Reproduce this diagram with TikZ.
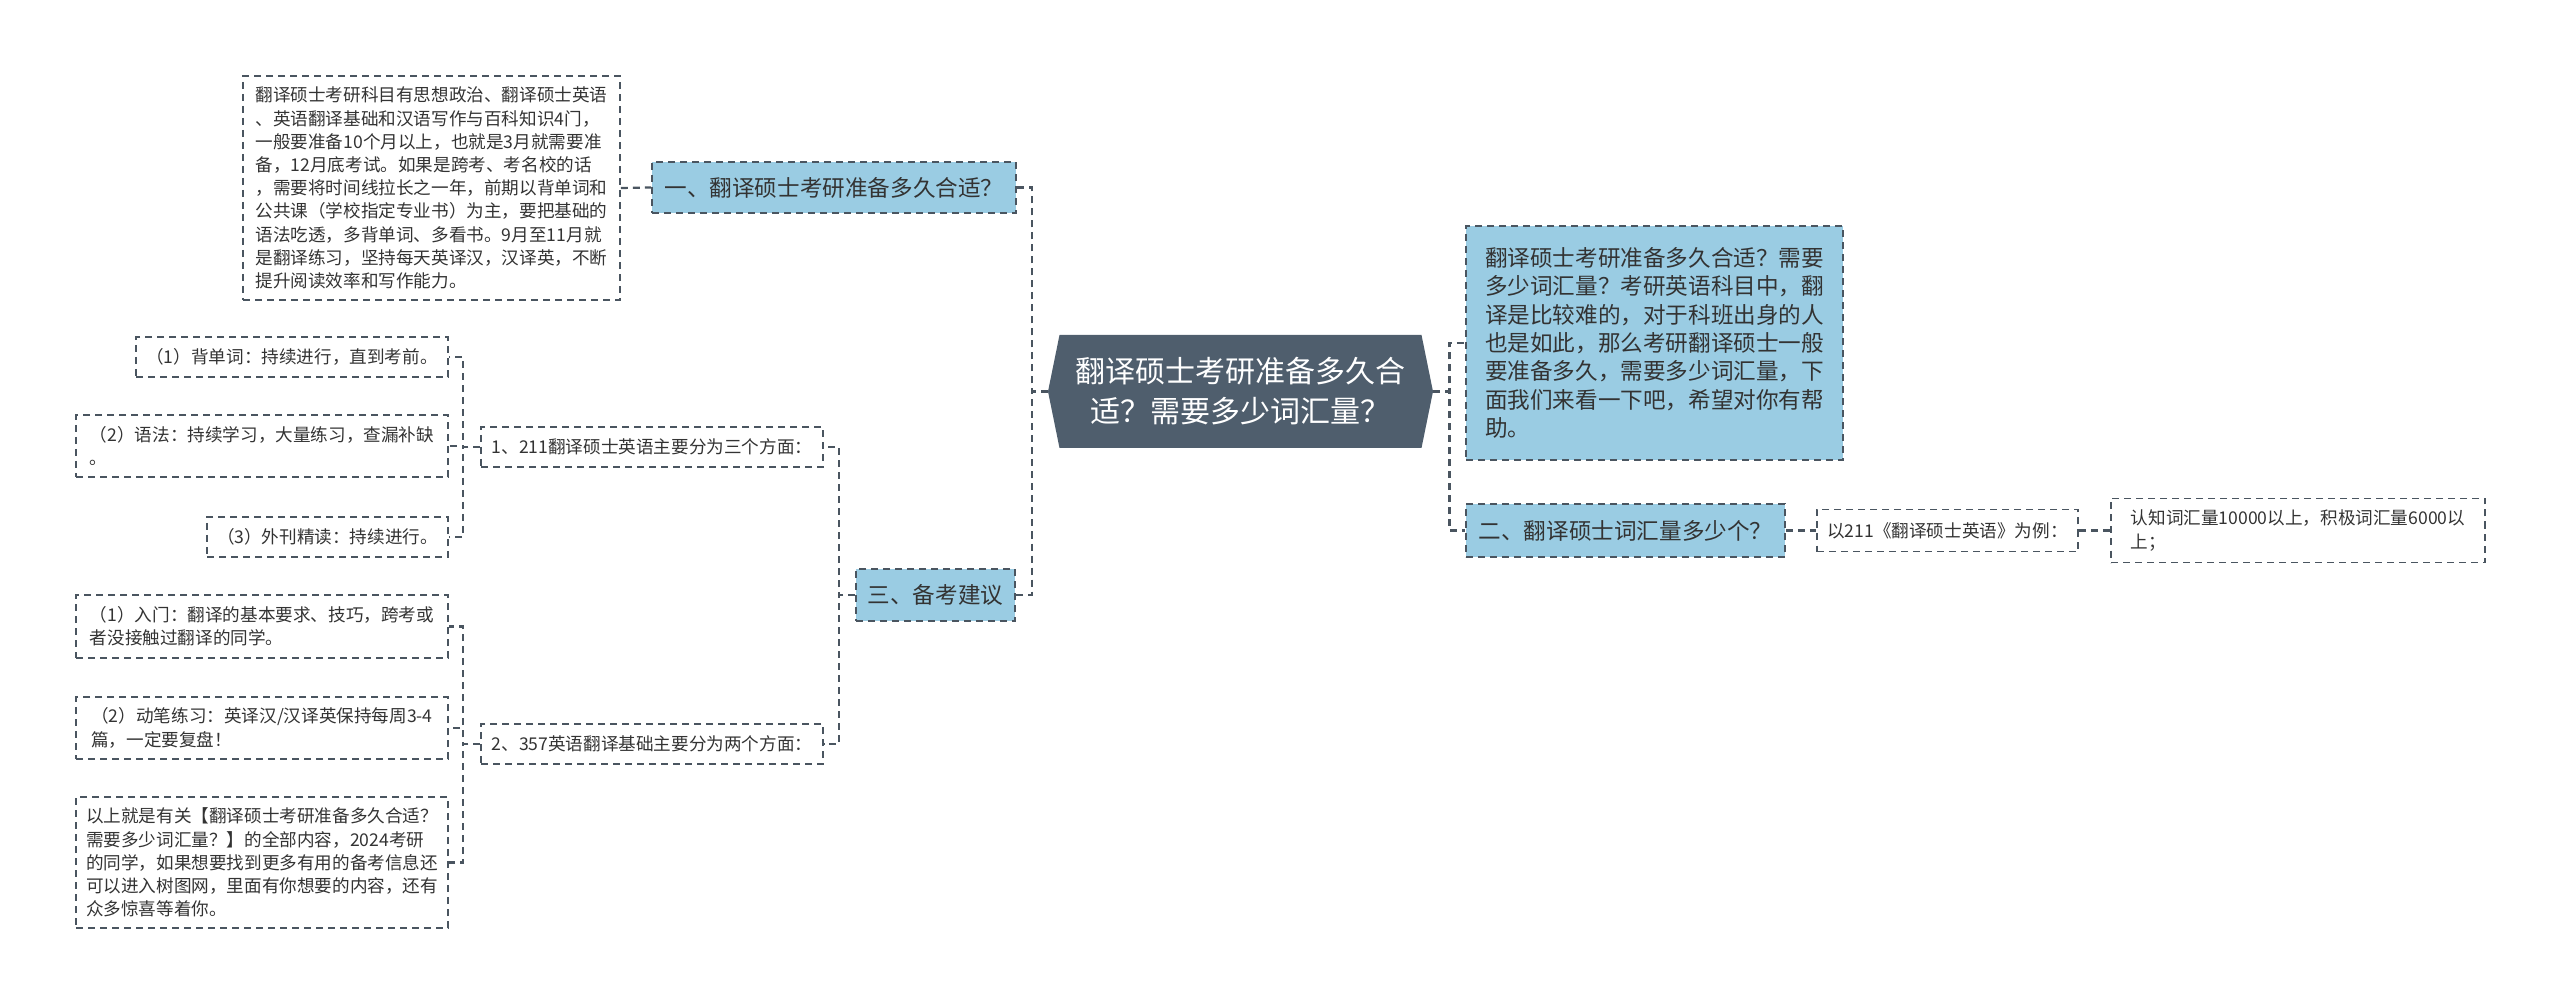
\documentclass[tikz,border=0pt]{standalone}
\usepackage{fontspec}
\setmainfont{Noto Sans CJK SC}
\usetikzlibrary{shapes.symbols}

\definecolor{topicfill}{HTML}{4F5E6D}
\definecolor{branchfill}{HTML}{9ACCE3}
\definecolor{linegray}{HTML}{4A5560}
\definecolor{textgray}{HTML}{333333}

\tikzset{
  wh/.style 2 args={minimum width=#1*0.5pt, minimum height=#2*0.5pt},
  box/.style={draw=linegray, line width=0.8pt, dash pattern=on 3.5pt off 2.5pt,
    text=textgray, inner sep=0pt, align=left},
  leaf/.style={box, font=\fontsize{8.8}{11.6}\selectfont},
  branch/.style={box, fill=branchfill, font=\fontsize{11.3}{14.2}\selectfont},
  topic/.style={signal, signal to=west and east, signal pointer angle=157,
    fill=topicfill, text=white, align=center, inner sep=0pt,
    font=\fontsize{15}{20}\selectfont},
  link/.style={draw=linegray, line width=1.1pt, dash pattern=on 3.5pt off 2.5pt},
}

\begin{document}
\begin{tikzpicture}[x=0.5pt, y=-0.5pt]
    \useasboundingbox (0,0) rectangle (2560,1005);

    \node[topic, wh={385}{113}] (main) at (1240.5,391.5)
      {翻译硕士考研准备多久合\\适？需要多少词汇量？};

    % left
    \node[branch, wh={364}{51}] (b1) at (834,187.5) {一、翻译硕士考研准备多久合适？};
    \node[leaf, wh={377}{224}] (intro) at (431.5,188)
      {翻译硕士考研科目有思想政治、翻译硕士英语\\
       、英语翻译基础和汉语写作与百科知识4门，\\
       一般要准备10个月以上，也就是3月就需要准\\
       备，12月底考试。如果是跨考、考名校的话\\
       ，需要将时间线拉长之一年，前期以背单词和\\
       公共课（学校指定专业书）为主，要把基础的\\
       语法吃透，多背单词、多看书。9月至11月就\\
       是翻译练习，坚持每天英译汉，汉译英，不断\\
       提升阅读效率和写作能力。};

    \node[branch, wh={159}{52}] (b3) at (935.5,595) {三、备考建议};
    \node[leaf, wh={342}{40}] (s1) at (652,447) {1、211翻译硕士英语主要分为三个方面：};
    \node[leaf, wh={342}{40}] (s2) at (652,744) {2、357英语翻译基础主要分为两个方面：};

    \node[leaf, wh={312}{40}] (a1) at (292,357) {（1）背单词：持续进行，直到考前。};
    \node[leaf, wh={372}{62}] (a2) at (262,446) {（2）语法：持续学习，大量练习，查漏补缺\\。};
    \node[leaf, wh={241}{40}] (a3) at (327.5,537) {（3）外刊精读：持续进行。};

    \node[leaf, wh={372}{63}] (c1) at (262,626.5)
      {（1）入门：翻译的基本要求、技巧，跨考或\\者没接触过翻译的同学。};
    \node[leaf, wh={372}{62}] (c2) at (262,728)
      {（2）动笔练习：英译汉/汉译英保持每周3-4\\篇，一定要复盘！};
    \node[leaf, wh={372}{131}] (c3) at (262,862.5)
      {以上就是有关【翻译硕士考研准备多久合适？\\
       需要多少词汇量？】的全部内容，2024考研\\
       的同学，如果想要找到更多有用的备考信息还\\
       可以进入树图网，里面有你想要的内容，还有\\
       众多惊喜等着你。};

    % right
    \node[branch, wh={377}{234}] (rt) at (1654.5,343)
      {翻译硕士考研准备多久合适？需要\\
       多少词汇量？考研英语科目中，翻\\
       译是比较难的，对于科班出身的人\\
       也是如此，那么考研翻译硕士一般\\
       要准备多久，需要多少词汇量，下\\
       面我们来看一下吧，希望对你有帮\\
       助。};
    \node[branch, wh={319}{53}] (b2) at (1625.5,530.5) {二、翻译硕士词汇量多少个？};
    \node[leaf, wh={261}{42}] (n21) at (1947.5,530.5) {以211《翻译硕士英语》为例：};
    \node[leaf, wh={374}{64}] (n22) at (2298,530.5)
      {认知词汇量10000以上，积极词汇量6000以\\上；};

    \draw[link] (intro.east) -- (b1.west);
    \draw[link] (main.west) -- ++(-16,0) |- (b1.east);
    \draw[link] (main.west) -- ++(-16,0) |- (b3.east);
    \draw[link] (main.east) -- ++(16,0) |- (rt.west);
    \draw[link] (main.east) -- ++(16,0) |- (b2.west);
    \draw[link] (b2.east) -- (n21.west);
    \draw[link] (n21.east) -- (n22.west);
    \foreach \s in {s1,s2}
      \draw[link] (b3.west) -- ++(-16,0) |- (\s.east);
    \foreach \a in {a1,a2,a3}
      \draw[link] (s1.west) -- ++(-17,0) |- (\a.east);
    \foreach \c in {c1,c2,c3}
      \draw[link] (s2.west) -- ++(-17,0) |- (\c.east);
  \end{tikzpicture}
\end{document}
